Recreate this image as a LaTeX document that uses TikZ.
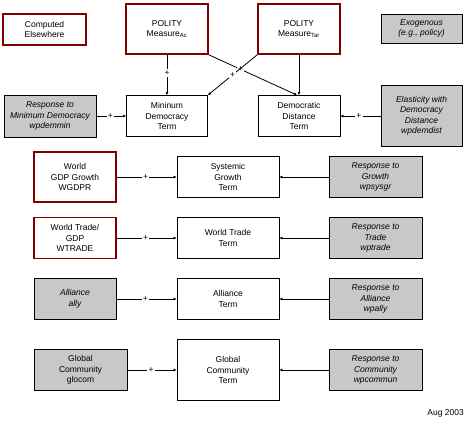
\documentclass[tikz,border=0pt]{standalone}
\usepackage{fontspec}
\setmainfont{Liberation Sans}
\usetikzlibrary{arrows.meta}
\definecolor{darkred}{RGB}{128,0,0}
\definecolor{boxgray}{RGB}{200,200,200}
\begin{document}
\begin{tikzpicture}[x=1pt,y=-1pt,
  every node/.style={font=\fontsize{8.5}{10.5}\selectfont, align=center, inner sep=0pt},
  basebox/.style={draw=black, line width=0.8pt, fill=white},
  redbox/.style={draw=darkred, line width=1.6pt, fill=white},
  graybox/.style={draw=black, line width=0.8pt, fill=boxgray, font=\fontsize{8.5}{10.5}\selectfont\itshape},
  graybox up/.style={draw=black, line width=0.8pt, fill=boxgray},
  conn/.style={line width=0.8pt, -{Latex[length=3pt,width=3pt]}},
  plus/.style={fill=white, inner sep=1.2pt, font=\fontsize{8.5}{9}\selectfont}
]
\useasboundingbox (0,0) rectangle (473,423);

% top legend
\node[redbox, minimum width=83pt, minimum height=31pt] (comp) at (44.5,29.5) {Computed\\Elsewhere};
\node[graybox, minimum width=81pt, minimum height=29pt] (exo) at (421.5,28.5) {Exogenous\\(e.g., policy)};

% polity
\node[redbox, minimum width=82pt, minimum height=50pt] (polac) at (167,29) {POLITY\\Measure\textsubscript{Ac}};
\node[redbox, minimum width=82pt, minimum height=50pt] (poltar) at (299,29) {POLITY\\Measure\textsubscript{Tar}};

% second row
\node[graybox, minimum width=92pt, minimum height=42pt] (respmin) at (50,116) {Response to\\Minimum Democracy\\wpdemmin};
\node[basebox, minimum width=81pt, minimum height=41pt] (mindem) at (167,116) {Mininum\\Democracy\\Term};
\node[basebox, minimum width=82pt, minimum height=41pt] (demdist) at (299,116) {Democratic\\Distance\\Term};
\node[graybox, minimum width=81pt, minimum height=61pt] (elast) at (421.5,116) {Elasticity with\\Democracy\\Distance\\wpdemdist};

% rows
\node[redbox, minimum width=82pt, minimum height=50pt] (wgdp) at (75,177) {World\\GDP Growth\\WGDPR};
\node[basebox, minimum width=102pt, minimum height=41pt] (sys) at (228,177) {Systemic\\Growth\\Term};
\node[graybox, minimum width=93pt, minimum height=41pt] (respg) at (375.5,177) {Response to\\Growth\\wpsysgr};

\node[redbox, minimum width=82pt, minimum height=41pt] (wtrade) at (75,238) {World Trade/\\GDP\\WTRADE};
\node[basebox, minimum width=102pt, minimum height=41pt] (wtt) at (228,238) {World Trade\\Term};
\node[graybox, minimum width=93pt, minimum height=41pt] (respt) at (375.5,238) {Response to\\Trade\\wptrade};

\node[graybox, minimum width=82pt, minimum height=41pt] (ally) at (75,299) {Alliance\\ally};
\node[basebox, minimum width=102pt, minimum height=41pt] (allt) at (228,299) {Alliance\\Term};
\node[graybox, minimum width=93pt, minimum height=41pt] (respa) at (375.5,299) {Response to\\Alliance\\wpally};

\node[graybox up, minimum width=93pt, minimum height=41pt] (glo) at (80.5,370) {Global\\Community\\glocom};
\node[basebox, minimum width=102pt, minimum height=61pt] (glot) at (228,370) {Global\\Community\\Term};
\node[graybox, minimum width=93pt, minimum height=41pt] (respc) at (375.5,370) {Response to\\Community\\wpcommun};

\node[anchor=east] (date) at (464,413) {Aug 2003};

% connectors
\draw[conn] (polac.south) -- node[plus, pos=0.45] {+} (mindem.north);
\draw[conn] (poltar.south) -- (demdist.north);
\coordinate (ddtop) at ([xshift=-2pt]demdist.north);
\draw[conn] (polac.south east) -- node[plus, pos=0.36] {+} (ddtop);
\draw[conn] (poltar.south west) -- node[plus, pos=0.5] {+} (mindem.north east);
\draw[conn] (respmin.east) -- node[plus, pos=0.47] {+} (mindem.west);
\draw[conn] (elast.west) -- node[plus, pos=0.54] {+} (demdist.east);

\draw[conn] (wgdp.east) -- node[plus, pos=0.48] {+} (sys.west);
\draw[conn] (respg.west) -- (sys.east);
\draw[conn] (wtrade.east) -- node[plus, pos=0.48] {+} (wtt.west);
\draw[conn] (respt.west) -- (wtt.east);
\draw[conn] (ally.east) -- node[plus, pos=0.48] {+} (allt.west);
\draw[conn] (respa.west) -- (allt.east);
\draw[conn] (glo.east) -- node[plus, pos=0.48] {+} (glot.west);
\draw[conn] (respc.west) -- (glot.east);
\end{tikzpicture}
\end{document}
